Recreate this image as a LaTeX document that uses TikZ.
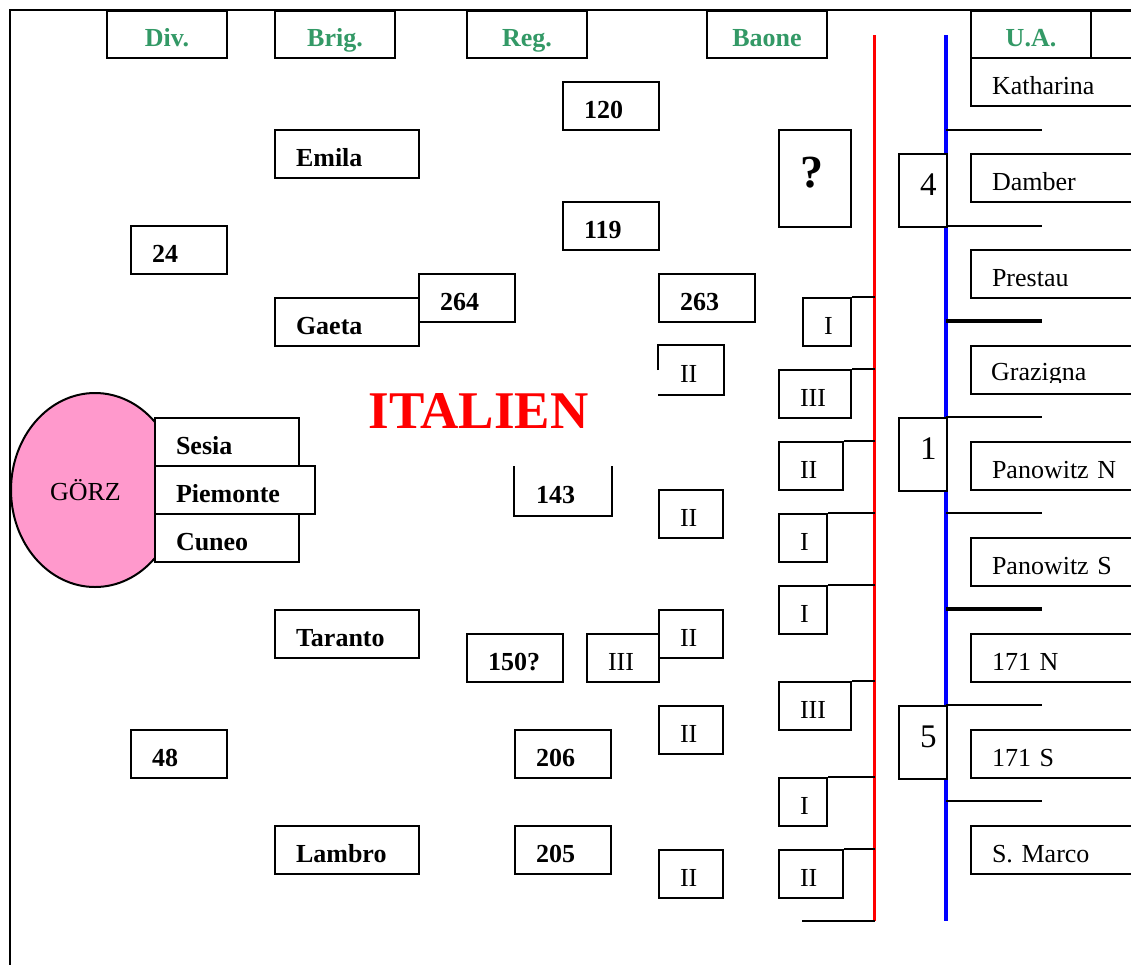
\documentclass[tikz,border=0pt]{standalone}
\usepackage{fontspec}
\setmainfont{Liberation Serif}
\usetikzlibrary{shapes.geometric}
\definecolor{seagreen}{HTML}{339966}
\definecolor{gorzpink}{HTML}{FF99CC}
\newcommand\txtsize{\fontsize{26}{30}\selectfont}
% \cell[options]{name}{left}{top}{width}{height}{text}
\newcommand\cell[7][]{%
  \pgfmathsetmacro\cellwd{#5-42}%
  \node[cell,text width=\cellwd pt,minimum height=#6pt,anchor=north west,#1] (#2) at (#3,#4) {#7};}
\tikzset{
  cell/.style={draw, fill=white, line width=2pt, inner xsep=21pt, inner ysep=0pt,
    text height=26pt, text depth=2pt, align=left, font=\txtsize},
  bold/.style={font=\txtsize\bfseries},
  head/.style={font=\txtsize\bfseries, text=seagreen, align=center},
  link/.style={line width=2pt},
  tickthin/.style={line width=1.4pt},
  tickthick/.style={line width=4pt},
}
\begin{document}
\begin{tikzpicture}[x=1pt, y=-1pt, line join=miter]
\useasboundingbox (0,0) rectangle (1131,964);
\clip (0,0) rectangle (1131,964);

% outer frame (top and left edges)
\coordinate (frameNE) at (1140,10);
\coordinate (frameNW) at (10,10);
\coordinate (frameSW) at (10,970);
\draw[line width=2pt] (frameNE) -- (frameNW) -- (frameSW);

% front lines
\coordinate (redtop) at (874.5,35);
\coordinate (redbot) at (874.5,921);
\coordinate (bluetop) at (946,35);
\coordinate (bluebot) at (946,921);
\draw[red, line width=3.5pt] (redtop) -- (redbot);
\draw[blue, line width=3.5pt] (bluetop) -- (bluebot);

% sector ticks on the blue line
\foreach \y [count=\i] in {130,226,417,513,705,801} {
  \coordinate (tick\i) at (1042,\y);
  \draw[tickthin] (tick\i -| bluetop) -- (tick\i);
}
\foreach \y [count=\i] in {321,609} {
  \coordinate (bound\i) at (1042,\y);
  \draw[tickthick] (bound\i -| bluetop) -- (bound\i);
}

% column headers
\cell[head]{hdiv}{106}{10}{120}{47}{Div.}
\cell[head]{hbrig}{274}{10}{120}{47}{Brig.}
\cell[head]{hreg}{466}{10}{120}{47}{Reg.}
\cell[head]{hbaone}{706}{10}{120}{47}{Baone}
\cell[head]{hua}{970}{10}{120}{47}{U.A.}
\cell[head]{hextra}{1090}{10}{120}{47}{}

% Austro-Hungarian sectors
\cell{katharina}{970}{57}{200}{48}{Katharina}
\cell{damber}{970}{153}{200}{48}{Damber}
\cell{prestau}{970}{249}{200}{48}{Prestau}
\cell{grazigna}{970}{345}{200}{48}{}
\begin{scope}
  \clip (960,340) rectangle (1131,382);
  \node[anchor=base west, font=\txtsize, inner sep=0pt] (grazignatext) at (991,380) {Grazigna};
\end{scope}
\cell{panowitzN}{970}{441}{200}{48}{Panowitz N}
\cell{panowitzS}{970}{537}{200}{48}{Panowitz S}
\cell{n171N}{970}{633}{200}{48}{171 N}
\cell{n171S}{970}{729}{200}{48}{171 S}
\cell{smarco}{970}{825}{200}{48}{S. Marco}

% sector numbers
\cell[font=\fontsize{33}{36}\selectfont, text height=11pt, text depth=2pt]{sec4}{898}{153}{48}{73}{4}
\cell[font=\fontsize{33}{36}\selectfont, text height=11pt, text depth=2pt]{sec1}{898}{417}{48}{73}{1}
\cell[font=\fontsize{33}{36}\selectfont, text height=11pt, text depth=2pt]{sec5}{898}{705}{48}{73}{5}

% battalions along the red line
\cell[font=\fontsize{46}{50}\selectfont\bfseries, text height=19pt, text depth=2pt]{bq}{778}{129}{72}{97}{?}
\cell{bI1}{802}{297}{48}{48}{I}
\cell{bIII1}{778}{369}{72}{48}{III}
\cell{bII1}{778}{441}{64}{48}{II}
\cell{bI2}{778}{513}{48}{48}{I}
\cell{bI3}{778}{585}{48}{48}{I}
\cell{bIII2}{778}{681}{72}{48}{III}
\cell{bI4}{778}{777}{48}{48}{I}
\cell{bII2}{778}{849}{64}{48}{II}
\foreach \b in {bI1,bIII1,bII1,bI2,bI3,bIII2,bI4,bII2}
  \draw[link] (\b.north east) -- (\b.north east -| redtop);
\coordinate (tailend) at (802,921);
\draw[link] (tailend) -- (redbot);

% battalions of the regiments
\cell[draw=none]{rII1}{658}{345}{64}{48}{II}
\draw[link] (rII1.west) -- (rII1.north west) -- (rII1.north east) -- (rII1.south east) -- (rII1.south west);
\cell{rII2}{658}{489}{64}{48}{II}
\cell{rII3}{658}{609}{64}{48}{II}
\cell{rII4}{658}{705}{64}{48}{II}
\cell{rII5}{658}{849}{64}{48}{II}
\cell{rIII}{586}{633}{72}{48}{III}

% regiments
\cell[bold]{r120}{562}{81}{96}{48}{120}
\cell[bold]{r119}{562}{201}{96}{48}{119}
\cell[bold]{r263}{658}{273}{96}{48}{263}
\cell[bold]{r150}{466}{633}{96}{48}{150?}
\cell[bold, draw=none]{r143}{514}{466}{96}{48}{143}
\draw[link] (r143.north west) -- (r143.south west) -- (r143.south east) -- (r143.north east);
\cell[bold]{r206}{514}{729}{96}{48}{206}
\cell[bold]{r205}{514}{825}{96}{48}{205}

% brigades
\cell[bold]{emila}{274}{129}{144}{48}{Emila}
\cell[bold]{gaeta}{274}{297}{144}{48}{Gaeta}
\cell[bold]{r264}{418}{273}{96}{48}{264}
\cell[bold]{taranto}{274}{609}{144}{48}{Taranto}
\cell[bold]{lambro}{274}{825}{144}{48}{Lambro}

% divisions
\cell[bold]{d24}{130}{225}{96}{48}{24}
\cell[bold]{d48}{130}{729}{96}{48}{48}

% Görz bridgehead
\node[ellipse, draw, fill=gorzpink, line width=2pt, minimum width=168pt, minimum height=194pt,
  inner sep=0pt, font=\txtsize, text height=20pt, text depth=0pt] (gorz) at (95,490) {\hspace*{-19pt}GÖRZ};
\cell[bold]{sesia}{154}{417}{144}{48}{Sesia}
\cell[bold]{piemonte}{154}{465}{160}{48}{Piemonte}
\cell[bold]{cuneo}{154}{513}{144}{48}{Cuneo}

% title
\node[font=\fontsize{53}{60}\selectfont\bfseries, text=red, anchor=base, inner sep=0pt] (italien) at (478.5,428) {ITALIEN};
\end{tikzpicture}
\end{document}
